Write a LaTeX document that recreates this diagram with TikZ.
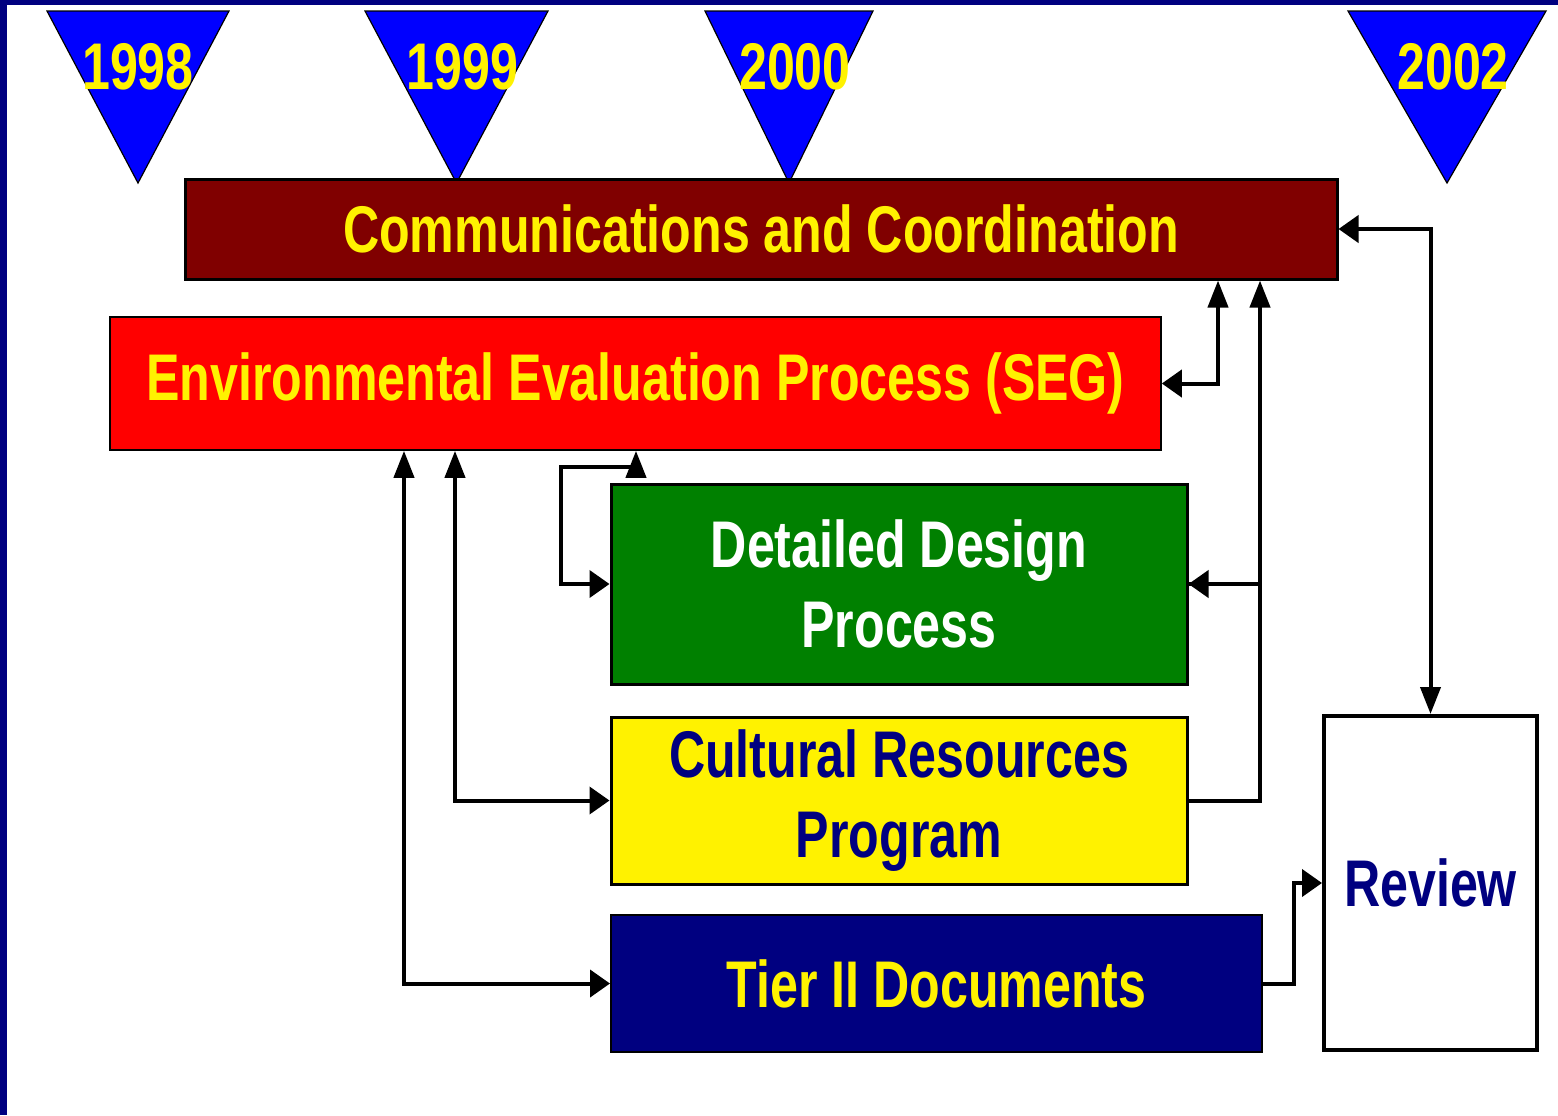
\documentclass[tikz,border=0pt]{standalone}
\usepackage{fontspec}
\usepackage{tikz}
\usetikzlibrary{arrows.meta}
\newfontfamily\slidefont{Liberation Sans}[FakeStretch=0.76]
\definecolor{navy}{RGB}{0, 0, 128}
\definecolor{maroon}{RGB}{128, 0, 0}
\definecolor{leaf}{RGB}{0, 128, 0}
\definecolor{marker}{RGB}{0, 0, 255}
\tikzset{htip/.tip={Triangle[length=10pt, width=13.5pt]},
         vtip/.tip={Triangle[length=13.5pt, width=10pt]}}

\begin{document}
\begin{tikzpicture}[x=0.5pt, y=-0.5pt,
  every node/.style={font=\slidefont\bfseries\fontsize{33}{40}\selectfont, inner sep=0pt, align=center},
  phase/.style={draw=black, rectangle},
  link/.style={line width=2pt}]
  \useasboundingbox (0, 0) rectangle (1558, 1115);
  \fill [navy] (0, 0) rectangle (1558, 4.5);
  \fill [navy] (0, 0) rectangle (6.5, 1115);

  % year markers
  \foreach \yr/\xl/\xr/\dx in {1998/47/229/0, 1999/365/548/6, 2000/705/873/6, 2002/1348/1546/6} {
    \draw [fill=marker, line width=0.6pt] (\xl, 11) -- (\xr, 11) -- ({(\xl+\xr)/2}, 183) -- cycle;
    \node [text=yellow, anchor=base] (y\yr) at ({(\xl+\xr)/2+\dx}, 89) {\yr};
  }

  \node [phase, fill=maroon, text=yellow, line width=1.5pt, minimum width=576pt, minimum height=50pt]
    (comm) at (761, 229) {Communications and Coordination};
  \node [phase, fill=red, text=yellow, line width=0.8pt, minimum width=525.5pt, minimum height=66.5pt]
    (seg) at (635.5, 383.5) {Environmental Evaluation Process (SEG)};
  \node [phase, fill=leaf, text=white, line width=1.5pt, minimum width=288pt, minimum height=100pt]
    (dd) at (899, 584) {Detailed Design\\Process};
  \node [phase, fill=yellow, text=navy, line width=1.5pt, minimum width=288pt, minimum height=83.5pt]
    (crp) at (899, 800.5) {Cultural Resources\\Program};
  \node [phase, fill=navy, text=yellow, line width=1pt, minimum width=325.5pt, minimum height=68.5pt]
    (tier) at (936.5, 983.5) {Tier II Documents};
  \node [phase, fill=white, text=navy, line width=2pt, minimum width=106.5pt, minimum height=167pt]
    (review) at (1430.5, 883) {Review};

  %
  \coordinate (busA) at (1218, 0);
  \coordinate (busB) at (1260, 0);
  \coordinate (loopR) at (636, 467);
  \coordinate (loopL) at (561, 467);
  \coordinate (dropA) at (455, 0);
  \coordinate (dropB) at (404, 0);
  \coordinate (jog) at (1294, 0);

  \draw [link, htip-vtip] (comm.east) -| (review.north);
  \draw [link, htip-vtip] (seg.east) -| (comm.south -| busA);
  \draw [link, -vtip] (dd.east) -| (comm.south -| busB);
  \draw [link, -htip] (crp.east) -| (dd.east -| busB) -- (dd.east);
  \draw [link, vtip-htip] (seg.south -| loopR) -- (loopR) -- (loopL) |- (dd.west);
  \draw [link, vtip-htip] (seg.south -| dropA) |- (crp.west);
  \draw [link, vtip-htip] (seg.south -| dropB) |- (tier.west);
  \draw [link, -htip] (tier.east) -| (review.west -| jog) -- (review.west);
\end{tikzpicture}
\end{document}
